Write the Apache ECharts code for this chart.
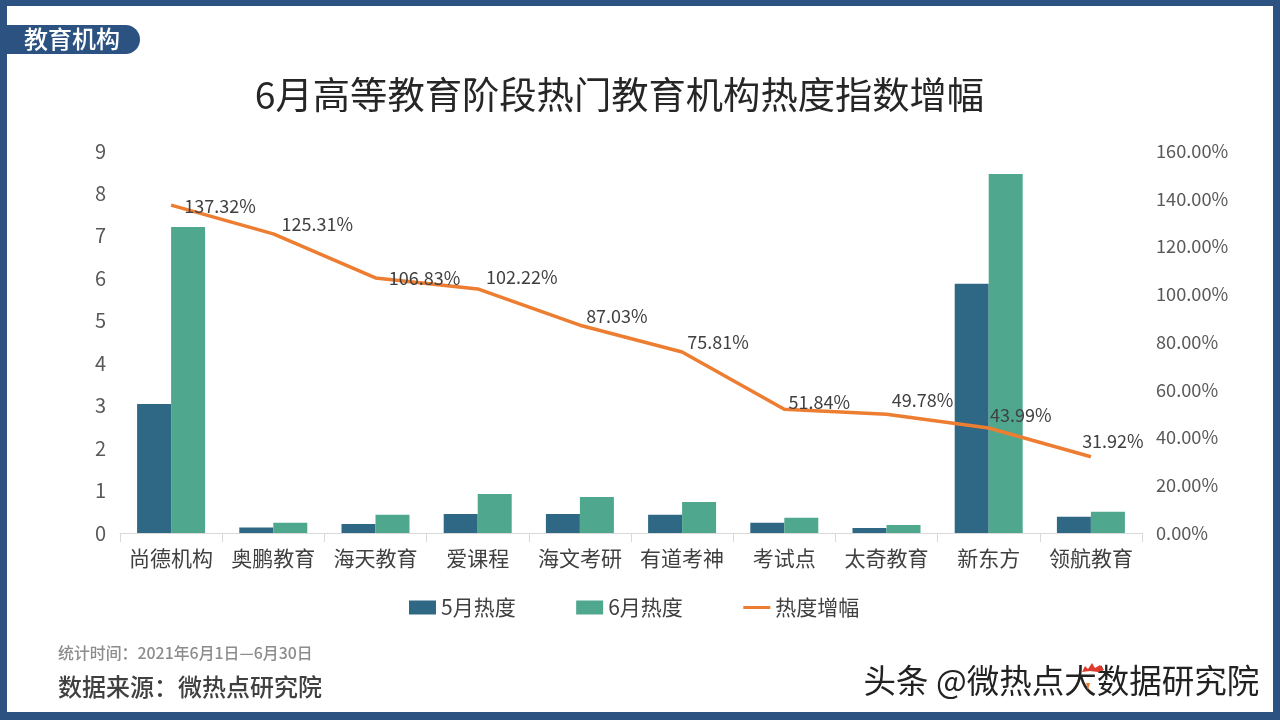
<!DOCTYPE html>
<html>
<head>
<meta charset="utf-8">
<style>
  html, body { margin: 0; padding: 0; background: #fff; }
  #chart { width: 1280px; height: 720px; }
</style>
<script src="https://cdn.jsdelivr.net/npm/echarts@6/dist/echarts.min.js"></script>
</head>
<body>
<div id="chart"></div>
<script>
const font = '"Noto Sans CJK SC", "Noto Sans", sans-serif'
const frameColor = '#2c5282'

const categories = ['尚德机构', '奥鹏教育', '海天教育', '爱课程', '海文考研', '有道考神', '考试点', '太奇教育', '新东方', '领航教育']
const may = [3.04, 0.13, 0.21, 0.45, 0.45, 0.43, 0.24, 0.12, 5.87, 0.38]
const june = [7.21, 0.24, 0.43, 0.92, 0.85, 0.73, 0.36, 0.19, 8.46, 0.5]

// 每个标签相对折线点的偏移
const growth = [
  { value: 137.32, offset: [49, 1] },
  { value: 125.31, offset: [44, -10] },
  { value: 106.83, offset: [49, 0] },
  { value: 102.22, offset: [44, -12] },
  { value: 87.03, offset: [37, -9] },
  { value: 75.81, offset: [36, -10] },
  { value: 51.84, offset: [35, -7] },
  { value: 49.78, offset: [36, -14] },
  { value: 43.99, offset: [32, -13] },
  { value: 31.92, offset: [22, -16] }
]

const myChart = echarts.init(document.getElementById('chart'))

const option = {
  animation: false,
  backgroundColor: '#fff',
  textStyle: { fontFamily: font },
  title: {
    text: '6月高等教育阶段热门教育机构热度指数增幅',
    left: 614.5,
    textAlign: 'center',
    top: 71,
    textStyle: { fontFamily: font, fontSize: 37.3, fontWeight: 'normal', color: '#262626' }
  },
  grid: { left: 120, right: 138, top: 151, bottom: 187 },
  legend: {
    left: 404,
    top: 592,
    itemWidth: 27,
    itemHeight: 14,
    itemGap: 60.5,
    textStyle: { fontFamily: font, fontSize: 21, color: '#404040' },
    data: [
      { name: '5月热度', icon: 'rect' },
      { name: '6月热度', icon: 'rect' },
      // 四角的小点把图标撑成整个方框，线才不会被拉粗
      { name: '热度增幅', icon: 'path://M0 0h0.01v0.01z M27 14h0.01v0.01z M0 5.5H27V8.5H0Z' }
    ]
  },
  xAxis: {
    type: 'category',
    data: categories,
    axisLine: { lineStyle: { color: '#d9d9d9' } },
    axisTick: { show: true, alignWithLabel: false, length: 9, lineStyle: { color: '#d9d9d9' } },
    axisLabel: { fontFamily: font, fontSize: 21, color: '#404040', margin: 15, interval: 0 }
  },
  yAxis: [
    {
      type: 'value',
      min: 0,
      max: 9,
      interval: 1,
      splitLine: { show: false },
      axisLine: { show: false },
      axisTick: { show: false },
      axisLabel: { fontFamily: font, fontSize: 20, color: '#595959', margin: 14 }
    },
    {
      type: 'value',
      min: 0,
      max: 160,
      interval: 20,
      splitLine: { show: false },
      axisLine: { show: false },
      axisTick: { show: false },
      axisLabel: {
        fontFamily: font,
        fontSize: 18.2,
        color: '#595959',
        margin: 14,
        formatter: (v) => v.toFixed(2) + '%'
      }
    }
  ],
  series: [
    {
      name: '5月热度',
      type: 'bar',
      data: may,
      barWidth: 34,
      barGap: 0,
      itemStyle: { color: '#2e6884' }
    },
    {
      name: '6月热度',
      type: 'bar',
      data: june,
      barWidth: 34,
      itemStyle: { color: '#4fa88e' }
    },
    {
      name: '热度增幅',
      type: 'line',
      yAxisIndex: 1,
      symbol: 'circle',
      symbolSize: 0,
      showSymbol: true,
      lineStyle: { color: '#ed7d31', width: 3.5 },
      itemStyle: { color: '#ed7d31' },
      data: growth.map((item) => ({
        value: item.value,
        label: { offset: item.offset }
      })),
      label: {
        show: true,
        position: 'inside',
        fontFamily: font,
        fontSize: 18,
        color: '#404040',
        formatter: (p) => p.value.toFixed(2) + '%'
      },
      z: 5
    }
  ],
  graphic: [
    // 边框
    { type: 'rect', shape: { x: 0, y: 0, width: 1280, height: 6 }, style: { fill: frameColor } },
    { type: 'rect', shape: { x: 0, y: 712, width: 1280, height: 8 }, style: { fill: frameColor } },
    { type: 'rect', shape: { x: 0, y: 0, width: 7, height: 720 }, style: { fill: frameColor } },
    { type: 'rect', shape: { x: 1273, y: 0, width: 7, height: 720 }, style: { fill: frameColor } },
    // 左上角标签
    { type: 'rect', shape: { x: 0, y: 25, width: 140, height: 29, r: [0, 14.5, 14.5, 0] }, style: { fill: frameColor } },
    {
      type: 'text', left: 24, top: 27,
      style: { text: '教育机构', fill: '#fff', font: '500 24px ' + font }
    },
    // 底部说明
    {
      type: 'text', left: 58, top: 645,
      style: { text: '统计时间：2021年6月1日—6月30日', fill: '#8c8c8c', font: '500 15.9px ' + font }
    },
    {
      type: 'text', left: 58, top: 675,
      style: { text: '数据来源：微热点研究院', fill: '#404040', font: '500 24px ' + font }
    },
    // 水印
    {
      type: 'text', left: 863, top: 664,
      style: {
        text: '头条 @微热点大数据研究院',
        fill: '#222',
        font: '32.5px ' + font,
        stroke: '#fff',
        lineWidth: 1.2
      }
    },
    // 水印里的小鸡头
    {
      type: 'polygon',
      shape: { points: [[1082, 672], [1085, 666], [1088, 669], [1092, 663], [1095, 668], [1100, 665], [1104, 670], [1098, 672], [1090, 671]] },
      style: { fill: '#e03a2f' }
    },
    {
      type: 'polygon',
      shape: { points: [[1086, 683], [1090, 683], [1088, 690]] },
      style: { fill: '#ed7d31' }
    }
  ]
}

myChart.setOption(option)
</script>
</body>
</html>
